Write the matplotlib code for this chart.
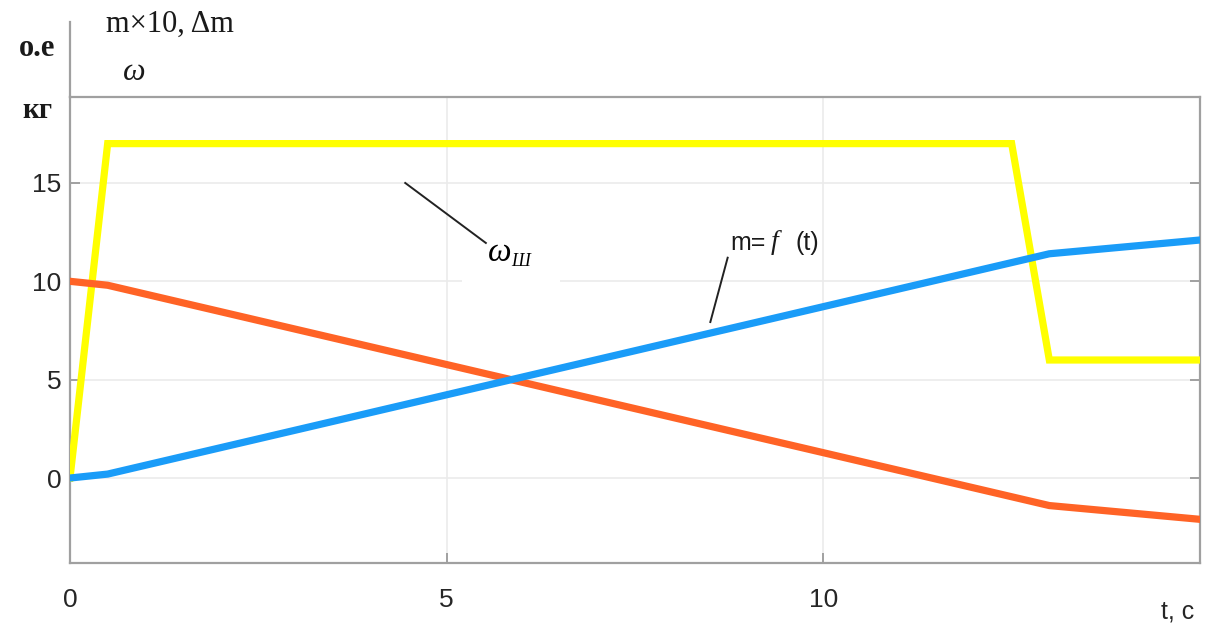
import numpy as np
import matplotlib
matplotlib.use("Agg")
from matplotlib import pyplot as plt
from matplotlib.patches import Rectangle

# data
t_w = [0, 0.5, 12.5, 13, 15]
w = [0, 17, 17, 6, 6]            # omega, o.e

t_m = [0, 0.5, 13, 15]
m = [0, 0.2, 11.4, 12.1]          # m x 10
dm = [10, 9.8, -1.4, -2.1]        # delta m

xticks = [0, 5, 10]
yticks = [0, 5, 10, 15]

W, H = 1216, 632
fig = plt.figure(figsize=(W / 100, H / 100), dpi=100)
ax = fig.add_axes([70 / W, 1 - 563 / H, 1130 / W, 466 / H])

ax.plot(t_w, w, color='#ffff00', lw=5.2, solid_joinstyle='miter', zorder=3)
ax.plot(t_m, dm, color='#ff6326', lw=5.2, zorder=3)
ax.plot(t_m, m, color='#1a9cf8', lw=5.2, zorder=4)

ax.set_xlim(0, 15)
ax.set_ylim(-4.32, 19.37)
ax.set_xticks(xticks)
ax.set_yticks(yticks)
ax.grid(True, color='#ebebeb', lw=1.2)
ax.set_axisbelow(True)

for s in ax.spines.values():
    s.set_color('#a0a0a0')
    s.set_linewidth(1.6)
ax.tick_params(direction='in', length=7, width=1.4, color='#a0a0a0',
               labelsize=19, labelcolor='#262626', right=True)
ax.tick_params(axis='x', pad=18)
ax.tick_params(axis='y', pad=6)
for lab in ax.get_xticklabels() + ax.get_yticklabels():
    lab.set_family('Liberation Sans')

# left spine continued above the box
ax.plot([0, 0], [1, 1.161], transform=ax.transAxes, clip_on=False,
        color='#a0a0a0', lw=1.6)

# omega_sh label with white patch over the grid
ax.add_patch(Rectangle((5.2, 9.6), 1.3, 3.0, facecolor='white',
                       edgecolor='none', zorder=1))
ax.plot([4.45, 5.52], [15.0, 11.95], color='#222222', lw=1.4, zorder=5)
ax.text(5.55, 11.45, 'ω', family='Liberation Serif', style='italic',
        fontsize=24, ha='left', va='center', zorder=6)
ax.text(5.86, 11.0, 'Ш', family='Liberation Serif', style='italic',
        fontsize=13, ha='left', va='center', zorder=6)

# m = f(t) label
ax.plot([8.5, 8.73], [7.93, 11.2], color='#222222', lw=1.4, zorder=5)
ax.text(8.76, 11.95, 'm=', family='Liberation Sans', fontsize=18,
        ha='left', va='center', color='#1a1a1a')
ax.text(9.3, 11.95, 'f', family='Liberation Serif', style='italic',
        fontsize=20, ha='left', va='center', color='#1a1a1a')
ax.text(9.63, 11.95, '(t)', family='Liberation Sans', fontsize=18,
        ha='left', va='center', color='#1a1a1a')

# texts around the axes
fig.text(37 / W, 1 - 48 / H, 'o.e', family='Liberation Serif',
         weight='bold', fontsize=22, ha='center', va='center', color='#1a1a1a')
fig.text(37 / W, 1 - 110 / H, 'кг', family='Liberation Serif',
         weight='bold', fontsize=21, ha='center', va='center', color='#1a1a1a')
fig.text(106 / W, 1 - 24 / H, 'm×10, Δm', family='Liberation Serif',
         fontsize=22, ha='left', va='center', color='#1a1a1a')
fig.text(134 / W, 1 - 72 / H, 'ω', family='Liberation Serif',
         style='italic', fontsize=23, ha='center', va='center', color='#1a1a1a')
fig.text(1178 / W, 1 - 611 / H, 't, c', family='Liberation Sans',
         fontsize=18, ha='center', va='center', color='#262626')

fig.savefig('out.png', dpi=100)
